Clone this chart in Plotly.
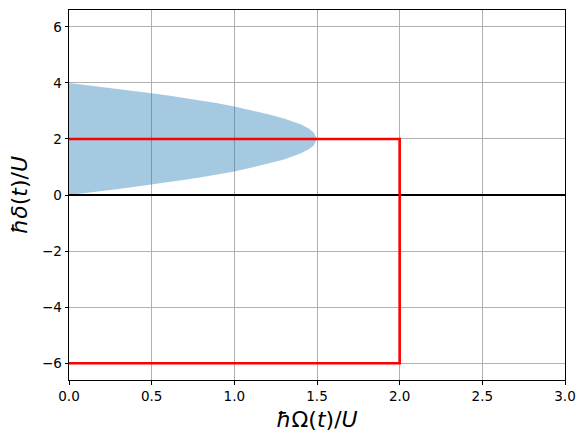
import plotly.graph_objects as go

# shaded region (boundary points)
region_x = [0.0, 0.1, 0.2, 0.3, 0.4, 0.5, 0.6, 0.7, 0.8, 0.9, 1.0,
            1.1, 1.2, 1.3, 1.4, 1.45, 1.48, 1.5]
region_upper = [4.00, 3.93, 3.86, 3.79, 3.71, 3.63, 3.55, 3.46, 3.37, 3.27, 3.16,
                3.03, 2.89, 2.73, 2.52, 2.37, 2.23, 2.00]
region_lower = [0.00, 0.07, 0.14, 0.21, 0.29, 0.37, 0.45, 0.54, 0.63, 0.73, 0.84,
                0.97, 1.11, 1.27, 1.48, 1.63, 1.77, 2.00]

# red protocol path
path_x = [0.0, 2.0, 2.0, 0.0]
path_y = [2.0, 2.0, -6.0, -6.0]

# horizontal reference line
ref_x = [0.0, 3.0]
ref_y = [0.0, 0.0]

x_ticks = [0.0, 0.5, 1.0, 1.5, 2.0, 2.5, 3.0]
y_ticks = [-6, -4, -2, 0, 2, 4, 6]

FONT = "DejaVu Sans"

fig = go.Figure()

# closed polygon: upper edge out, lower edge back
fig.add_trace(go.Scatter(
    x=region_x + region_x[::-1],
    y=region_upper + region_lower[::-1],
    mode='lines',
    fill='toself',
    fillcolor='rgba(31,119,180,0.4)',
    line=dict(width=0),
    hoverinfo='skip',
    showlegend=False
))

fig.add_trace(go.Scatter(
    x=ref_x, y=ref_y,
    mode='lines',
    line=dict(color='black', width=1.8),
    showlegend=False
))

fig.add_trace(go.Scatter(
    x=path_x, y=path_y,
    mode='lines',
    line=dict(color='red', width=2.6),
    showlegend=False
))

axis_common = dict(
    showgrid=True,
    gridcolor='#b0b0b0',
    gridwidth=0.8,
    zeroline=False,
    showline=True,
    linecolor='black',
    linewidth=1,
    mirror=True,
    ticks='outside',
    ticklen=3.5,
    tickwidth=1,
    tickcolor='black',
    tickfont=dict(family=FONT, size=13.5, color='black'),
)

fig.update_xaxes(
    range=[0, 3],
    tickvals=x_ticks,
    tickformat='.1f',
    title=dict(text='<i>ħ</i>Ω(<i>t</i>)/<i>U</i>',
               font=dict(family=FONT, size=22, color='black'),
               standoff=8),
    **axis_common
)

fig.update_yaxes(
    range=[-6.6, 6.6],
    tickvals=y_ticks,
    title=dict(text='<i>ħδ</i>(<i>t</i>)/<i>U</i>',
               font=dict(family=FONT, size=22, color='black'),
               standoff=8),
    **axis_common
)

fig.update_layout(
    width=585,
    height=441,
    margin=dict(l=69, r=20, t=10, b=61),
    plot_bgcolor='white',
    paper_bgcolor='white',
    showlegend=False
)

# drop the page's default body margin so the figure sits at the corner
fig.write_html("out.html", config={'displayModeBar': False},
               post_script="document.body.style.margin='0px';")
